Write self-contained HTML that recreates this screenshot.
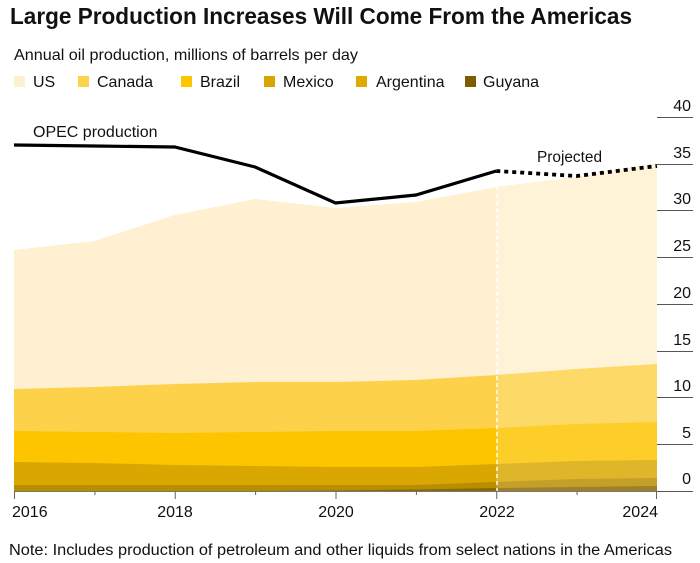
<!DOCTYPE html>
<html>
<head>
<meta charset="utf-8">
<style>
  html, body { margin:0; padding:0; background:#fff; }
  body { width:700px; height:563px; overflow:hidden; }
  svg { display:block; font-family:"Liberation Sans", Arial, sans-serif; }
</style>
</head>
<body>
<svg width="700" height="563" viewBox="0 0 700 563" xmlns="http://www.w3.org/2000/svg">
  <rect x="0" y="0" width="700" height="563" fill="#fff"/>

  <!-- Title -->
  <text x="10" y="24" font-size="23" font-weight="bold" fill="#111" textLength="622" lengthAdjust="spacingAndGlyphs">Large Production Increases Will Come From the Americas</text>
  <!-- Subtitle -->
  <text x="14" y="60" font-size="16" fill="#111" textLength="344" lengthAdjust="spacingAndGlyphs">Annual oil production, millions of barrels per day</text>

  <!-- Legend -->
  <rect x="14" y="76" width="11" height="11" fill="#fdf0cf"/>
  <text x="33" y="87" font-size="16" fill="#111">US</text>
  <rect x="78" y="76" width="11" height="11" fill="#fdd34a"/>
  <text x="97" y="87" font-size="16" fill="#111">Canada</text>
  <rect x="181" y="76" width="11" height="11" fill="#fdc600"/>
  <text x="200" y="87" font-size="16" fill="#111">Brazil</text>
  <rect x="264" y="76" width="11" height="11" fill="#d8a600"/>
  <text x="283" y="87" font-size="16" fill="#111">Mexico</text>
  <rect x="356" y="76" width="11" height="11" fill="#dcaa00"/>
  <text x="376" y="87" font-size="16" fill="#111">Argentina</text>
  <rect x="465" y="76" width="11" height="11" fill="#7c5e00"/>
  <text x="483" y="87" font-size="16" fill="#111">Guyana</text>

  <!-- Y gridlines (right side) -->
  <g stroke="#555" stroke-width="1">
    <line x1="657" y1="117.5" x2="693" y2="117.5"/>
    <line x1="657" y1="164.5" x2="693" y2="164.5"/>
    <line x1="657" y1="210.5" x2="693" y2="210.5"/>
    <line x1="657" y1="257.5" x2="693" y2="257.5"/>
    <line x1="657" y1="304.5" x2="693" y2="304.5"/>
    <line x1="657" y1="351.5" x2="693" y2="351.5"/>
    <line x1="657" y1="397.5" x2="693" y2="397.5"/>
    <line x1="657" y1="444.5" x2="693" y2="444.5"/>
    <line x1="657" y1="491.5" x2="693" y2="491.5"/>
  </g>
  <g font-size="16" fill="#111" text-anchor="end">
    <text x="691" y="111">40</text>
    <text x="691" y="158">35</text>
    <text x="691" y="204">30</text>
    <text x="691" y="251">25</text>
    <text x="691" y="298">20</text>
    <text x="691" y="345">15</text>
    <text x="691" y="391">10</text>
    <text x="691" y="438">5</text>
    <text x="691" y="484">0</text>
  </g>

  <!-- Stacked areas -->
  <polygon fill="#fef0d0" points="14,250 94.4,241 174.75,215 255.1,199 335.5,208 415.9,202 496.25,187 576.6,177 657,163 657,491 14,491"/>
  <polygon fill="#fdd24a" points="14,389 94.4,387 174.75,384 255.1,382 335.5,382 415.9,380 496.25,375 576.6,369 657,364 657,491 14,491"/>
  <polygon fill="#fdc500" points="14,431 94.4,432 174.75,433 255.1,432 335.5,431 415.9,431 496.25,428 576.6,424 657,422 657,491 14,491"/>
  <polygon fill="#d9a700" points="14,462 94.4,463 174.75,465 255.1,466 335.5,467 415.9,467 496.25,464 576.6,461 657,460 657,491 14,491"/>
  <polygon fill="#b98d00" points="14,485 94.4,485 174.75,485 255.1,485 335.5,485 415.9,485 496.25,482 576.6,479 657,478 657,491 14,491"/>
  <polygon fill="#8a6900" points="14,491 94.4,491 174.75,491 255.1,491 335.5,490.5 415.9,489.5 496.25,488 576.6,487 657,486 657,491 14,491"/>

  <!-- Projection lightening overlay -->
  <polygon fill="#ffffff" fill-opacity="0.16" points="496.25,187 576.6,177 657,163 657,491 496.25,491"/>

  <!-- Dashed 2022 divider -->
  <line x1="497" y1="187" x2="497" y2="491" stroke="#ffffff" stroke-width="1.6" stroke-dasharray="4 3" stroke-opacity="0.9"/>

  <!-- X axis -->
  <line x1="14" y1="491.5" x2="657" y2="491.5" stroke="#777" stroke-width="1"/>
  <g stroke="#666" stroke-width="1">
    <line x1="14.5" y1="491" x2="14.5" y2="499"/>
    <line x1="94.9" y1="491" x2="94.9" y2="495"/>
    <line x1="175.25" y1="491" x2="175.25" y2="499"/>
    <line x1="255.6" y1="491" x2="255.6" y2="495"/>
    <line x1="336" y1="491" x2="336" y2="499"/>
    <line x1="416.4" y1="491" x2="416.4" y2="495"/>
    <line x1="496.75" y1="491" x2="496.75" y2="499"/>
    <line x1="577.1" y1="491" x2="577.1" y2="495"/>
    <line x1="656.5" y1="491" x2="656.5" y2="499"/>
  </g>
  <g font-size="16" fill="#111">
    <text x="12" y="517">2016</text>
    <text x="175" y="517" text-anchor="middle">2018</text>
    <text x="336" y="517" text-anchor="middle">2020</text>
    <text x="497" y="517" text-anchor="middle">2022</text>
    <text x="658" y="517" text-anchor="end">2024</text>
  </g>

  <!-- OPEC line -->
  <polyline fill="none" stroke="#000" stroke-width="3.2" stroke-linejoin="miter"
    points="14,145 94.4,146 174.75,147 255.1,167 335.5,203 415.9,195 496.25,171"/>
  <polyline fill="none" stroke="#000" stroke-width="3.8" stroke-dasharray="4 4"
    points="496.25,171 576.6,176 657,166"/>

  <text x="33" y="137" font-size="16" fill="#111">OPEC production</text>
  <text x="537" y="162" font-size="15.5" fill="#111" textLength="65" lengthAdjust="spacingAndGlyphs">Projected</text>

  <!-- Note -->
  <text x="9" y="555" font-size="15.5" fill="#111" textLength="663" lengthAdjust="spacingAndGlyphs">Note: Includes production of petroleum and other liquids from select nations in the Americas</text>
</svg>
</body>
</html>
